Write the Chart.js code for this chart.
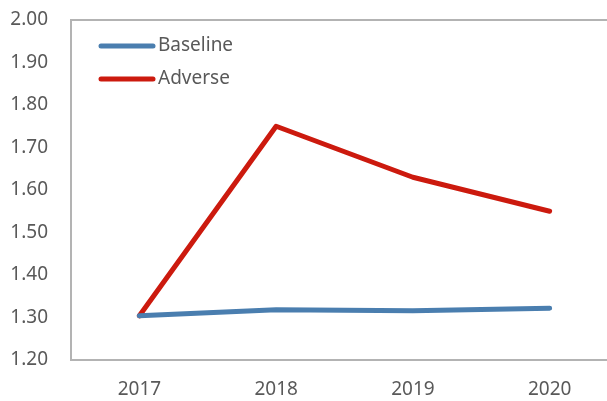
<!DOCTYPE html>
<html>
<head>
<meta charset="utf-8">
<script src="https://cdn.jsdelivr.net/npm/chart.js@4"></script>
<style>
  html, body { margin: 0; padding: 0; background: #fff; overflow: hidden; }
  #wrap { width: 620px; height: 401px; }
</style>
</head>
<body>
<div id="wrap"><canvas id="chart" width="620" height="401"></canvas></div>
<script>
const years = ['2017', '2018', '2019', '2020'];
const baseline = [1.304, 1.318, 1.316, 1.322];
const adverse = [1.304, 1.750, 1.630, 1.550];
const yMin = 1.2, yMax = 2.0, yStep = 0.1;

const textColor = '#595959';
const axisColor = '#b3b3b3';
const fontFamily = "'Noto Sans', 'Open Sans', sans-serif";
const fontSize = 19;

// 플롯 영역 테두리 (위/왼쪽/아래)
const frame = {
    id: 'frame',
    beforeDatasetsDraw(chart) {
        const { ctx, chartArea: a } = chart;
        ctx.save();
        ctx.strokeStyle = axisColor;
        ctx.lineWidth = 2;
        ctx.beginPath();
        ctx.moveTo(a.right + 5, a.top);
        ctx.lineTo(a.left, a.top);
        ctx.lineTo(a.left, a.bottom);
        ctx.lineTo(a.right + 5, a.bottom);
        ctx.stroke();
        ctx.restore();
    }
};

// 차트 안쪽 범례
const innerLegend = {
    id: 'innerLegend',
    afterDatasetsDraw(chart) {
        const { ctx } = chart;
        ctx.save();
        ctx.font = fontSize + 'px ' + fontFamily;
        ctx.textBaseline = 'middle';
        chart.data.datasets.forEach((ds, i) => {
            const y = 46 + i * 33;
            ctx.strokeStyle = ds.borderColor;
            ctx.lineWidth = 5;
            ctx.lineCap = 'round';
            ctx.beginPath();
            ctx.moveTo(101, y);
            ctx.lineTo(153, y);
            ctx.stroke();
            ctx.fillStyle = textColor;
            ctx.fillText(ds.label, 158, y);
        });
        ctx.restore();
    }
};

new Chart(document.getElementById('chart'), {
    type: 'line',
    data: {
        labels: years,
        datasets: [
            { label: 'Baseline', data: baseline, borderColor: '#4a7eaf' },
            { label: 'Adverse', data: adverse, borderColor: '#cc1a0e' }
        ]
    },
    options: {
        responsive: false,
        animation: false,
        layout: { padding: { top: 0, right: 2, left: 0, bottom: 0 } },
        elements: {
            line: { borderWidth: 5, tension: 0, borderCapStyle: 'round', borderJoinStyle: 'round' },
            point: { radius: 0 }
        },
        plugins: { legend: { display: false }, tooltip: { enabled: false } },
        scales: {
            x: {
                offset: true,
                grid: { display: false, drawTicks: false },
                border: { display: false },
                ticks: { color: textColor, font: { family: fontFamily, size: fontSize }, padding: 18 },
                afterFit(scale) { scale.height = 41; }
            },
            y: {
                min: yMin,
                max: yMax,
                grid: { display: false, drawTicks: false },
                border: { display: false },
                ticks: {
                    stepSize: yStep,
                    color: textColor,
                    font: { family: fontFamily, size: fontSize },
                    padding: 23,
                    callback: v => v.toFixed(2)
                },
                afterFit(scale) {
                    scale.width = 71;
                    scale.paddingTop = 20;
                    scale.paddingBottom = 0;
                }
            }
        }
    },
    plugins: [frame, innerLegend]
});
</script>
</body>
</html>
